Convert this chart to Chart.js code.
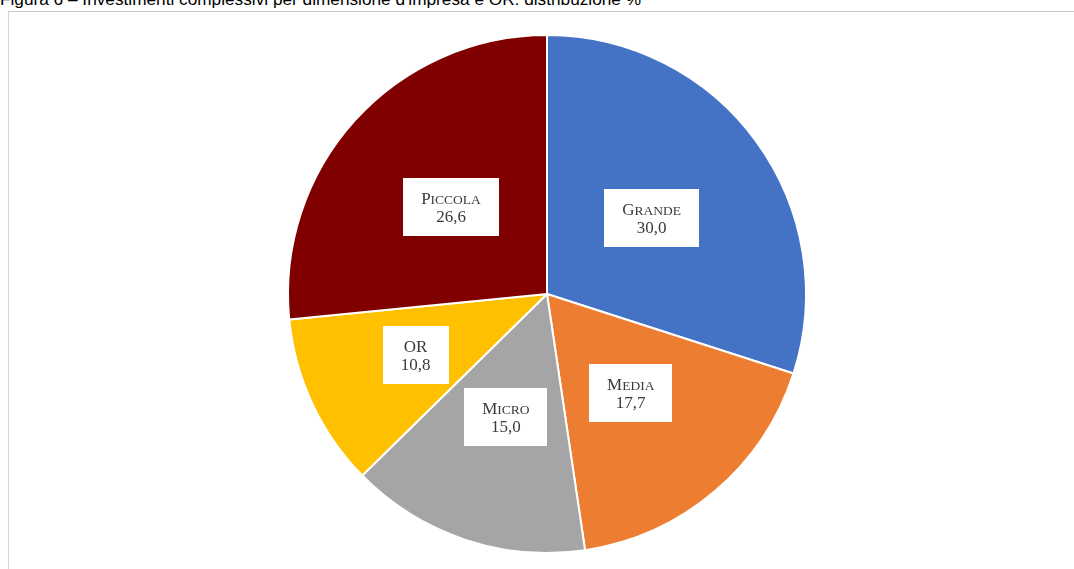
<!DOCTYPE html>
<html>
<head>
<meta charset="utf-8">
<script src="https://cdn.jsdelivr.net/npm/chart.js@4"></script>
<style>
  html, body { margin: 0; padding: 0; background: #fff; overflow: hidden; }
  #wrap { position: relative; width: 1074px; height: 569px; }
  #title {
    position: absolute; left: 0; top: -9px; white-space: nowrap;
    font-family: "Liberation Sans Narrow", "Arial Narrow", "Liberation Sans", sans-serif;
    font-size: 16px; color: #000; transform-origin: 0 0;
  }
  #frame {
    position: absolute; left: 8px; top: 11px; width: 1070px; height: 600px;
    border-top: 1px solid #c9c9c9; border-left: 1px solid #d4d4d4;
    box-shadow: 0 1px 1px rgba(0,0,0,0.08);
  }
  canvas { position: absolute; left: 0; top: 0; }
</style>
</head>
<body>
<div id="wrap">
  <div id="title">Figura 6 – Investimenti complessivi per dimensione d'impresa e OR: distribuzione %</div>
  <div id="frame"></div>
  <canvas id="c" width="1074" height="569"></canvas>
</div>
<script>
// Quote degli investimenti complessivi per dimensione d'impresa e OR (%)
const categories = ['Grande', 'Media', 'Micro', 'OR', 'Piccola'];
const shares = [30.0, 17.7, 15.0, 10.8, 26.6];
const sliceColors = ['#4472C4', '#ED7D31', '#A5A5A5', '#FFC000', '#800000'];

// stretch the narrow title to its printed width
const t = document.getElementById('title');
const w = t.getBoundingClientRect().width;
t.style.transform = 'scaleX(' + (641 / w) + ')';

function fmt(v) { return v.toFixed(1).replace('.', ','); }

// small-caps serif labels inside white boxes
const boxLabels = {
  id: 'boxLabels',
  afterDatasetsDraw(chart) {
    const ctx = chart.ctx;
    const meta = chart.getDatasetMeta(0);
    const serif = '"Liberation Serif", "Times New Roman", serif';
    const big = '17px ' + serif, small = '13.5px ' + serif;
    meta.data.forEach((arc, i) => {
      const c = arc.getCenterPoint();
      // push the thinnest slice's label a little further out
      const k = shares[i] < 12 ? 1.12 : 1.0;
      const p = { x: arc.x + (c.x - arc.x) * k, y: arc.y + (c.y - arc.y) * k };
      const name = categories[i];
      // small caps: lowercase letters are drawn as reduced capitals
      const parts = [...name].map(ch => ({
        ch: ch.toUpperCase(),
        font: ch === ch.toUpperCase() ? big : small
      }));
      ctx.save();
      let nameW = 0;
      parts.forEach(pt => { ctx.font = pt.font; pt.w = ctx.measureText(pt.ch).width; nameW += pt.w; });
      ctx.font = big;
      const valW = ctx.measureText(fmt(shares[i])).width;
      const tw = Math.max(nameW, valW);
      const bw = Math.round(tw + 36), bh = 58;
      ctx.fillStyle = '#fff';
      ctx.fillRect(Math.round(p.x - bw / 2), Math.round(p.y - bh / 2), bw, bh);
      ctx.fillStyle = '#3a3a3a';
      ctx.textBaseline = 'alphabetic';
      ctx.textAlign = 'left';
      let x = p.x - nameW / 2;
      parts.forEach(pt => { ctx.font = pt.font; ctx.fillText(pt.ch, x, p.y - 3); x += pt.w; });
      ctx.font = big;
      ctx.textAlign = 'center';
      ctx.fillText(fmt(shares[i]), p.x, p.y + 15);
      ctx.restore();
    });
  }
};

new Chart(document.getElementById('c'), {
  type: 'pie',
  data: {
    labels: categories,
    datasets: [{
      data: shares,
      backgroundColor: sliceColors,
      borderColor: '#fff',
      borderWidth: 2
    }]
  },
  options: {
    responsive: false,
    animation: false,
    layout: { padding: { left: 287, right: 267, top: 34, bottom: 15 } },
    plugins: { legend: { display: false }, tooltip: { enabled: false } }
  },
  plugins: [boxLabels]
});
</script>
</body>
</html>
